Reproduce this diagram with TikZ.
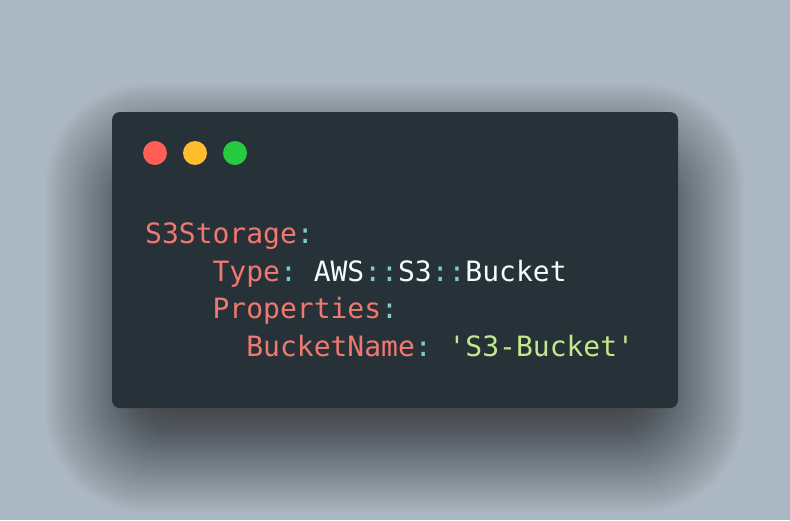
\documentclass[tikz,border=0pt]{standalone}
\usepackage{fontspec}
\setmonofont{DejaVu Sans Mono}
\definecolor{bgc}{HTML}{ABB8C3}
\definecolor{winc}{HTML}{263238}
\definecolor{keyc}{HTML}{F07870}
\definecolor{punc}{HTML}{80CBC4}
\definecolor{plainc}{HTML}{EEFFFF}
\definecolor{strc}{HTML}{C3E88D}
\definecolor{dotr}{HTML}{FF5F56}
\definecolor{doty}{HTML}{FFBD2E}
\definecolor{dotg}{HTML}{27C93F}
\tikzset{
  codeline/.style={anchor=base west, inner sep=0pt, font=\ttfamily\fontsize{28}{30}\selectfont},
  winlight/.style={circle, minimum size=24pt, inner sep=0pt}
}
\newcommand{\ckey}[1]{\textcolor{keyc}{#1}}
\newcommand{\cpun}[1]{\textcolor{punc}{#1}}
\newcommand{\cpln}[1]{\textcolor{plainc}{#1}}
\newcommand{\cstr}[1]{\textcolor{strc}{#1}}
\begin{document}
\begin{tikzpicture}[x=1pt,y=-1pt]
\fill[bgc] (0,0) rectangle (790,520);
\useasboundingbox (0,0) rectangle (790,520);
% shadow
\foreach \i in {0,...,59}{
  \pgfmathsetmacro{\d}{1.8*\i-40}
  \fill[black, fill opacity=0.011, rounded corners=30+1.2*\i]
    (112-\d,112-\d+38) rectangle (678+\d,408+\d+38);
}
% window
\fill[winc, rounded corners=8] (112,112) rectangle (678,408);
\node[winlight, fill=dotr] (red) at (155,153) {};
\node[winlight, fill=doty] (yellow) at (195,153) {};
\node[winlight, fill=dotg] (green) at (235,153) {};
% code
\node[codeline] (l1) at (145,243) {\ckey{S3Storage}\cpun{:}};
\node[codeline] (l2) at (145,281) {\phantom{xxxx}\ckey{Type}\cpun{:} \cpln{AWS}\cpun{::}\cpln{S3}\cpun{::}\cpln{Bucket}};
\node[codeline] (l3) at (145,318) {\phantom{xxxx}\ckey{Properties}\cpun{:}};
\node[codeline] (l4) at (145,356) {\phantom{xxxxxx}\ckey{BucketName}\cpun{:} \cstr{'S3-Bucket'}};
\end{tikzpicture}
\end{document}
